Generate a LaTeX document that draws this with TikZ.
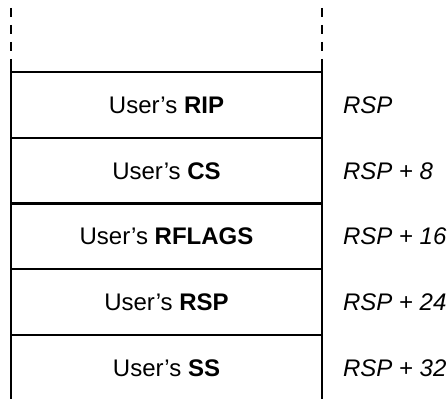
\documentclass[tikz,border=0pt]{standalone}
\usepackage{fontspec}
\setmainfont{Liberation Sans}
\usetikzlibrary{positioning}

\begin{document}
\begin{tikzpicture}[
  x=1pt, y=1pt,
  font=\fontsize{24}{29}\selectfont,
  cell/.style={inner sep=0pt, outer sep=0pt, minimum width=311pt, minimum height=65.75pt,
               text height=17pt, text depth=0pt, align=center},
  addr/.style={inner sep=0pt, outer sep=0pt, anchor=west, text height=17pt, text depth=0pt,
               font=\fontsize{24}{29}\selectfont\itshape},
  wall/.style={line width=2.2pt, black},
  faded/.style={wall, dash pattern=on 9pt off 8pt}
]
\useasboundingbox (0,0) rectangle (447,399);
\coordinate (floor) at (0,0);

% --- Saved frame on the kernel stack -----------------------------------------
\node[cell] (rip) at (166.5,294.125) {User's \textbf{RIP}};
\node[cell, below=0pt of rip] (cs) {User's \textbf{CS}};
\node[cell, below=0pt of cs] (rflags) {User's \textbf{RFLAGS}};
\node[cell, below=0pt of rflags] (rsp) {User's \textbf{RSP}};
\node[cell, below=0pt of rsp] (ss) {User's \textbf{SS}};

% --- Offsets ------------------------------------------------------------------
\node[addr, right=21pt of rip.east] (ofs0) {RSP};
\node[addr, right=21pt of cs.east] (ofs8) {RSP + 8};
\node[addr, right=21pt of rflags.east] (ofs16) {RSP + 16};
\node[addr, right=21pt of rsp.east] (ofs24) {RSP + 24};
\node[addr, right=21pt of ss.east] (ofs32) {RSP + 32};

% --- Separators ---------------------------------------------------------------
\foreach \c in {rip, cs, rflags, rsp, ss}
  \draw[wall] (\c.north west) -- (\c.north east);

% --- Side walls (open above and below) ----------------------------------------
\draw[wall] ([yshift=11pt]rip.north west) -- (rip.north west |- floor);
\draw[wall] ([yshift=11pt]rip.north east) -- (rip.north east |- floor);
\draw[faded] ([yshift=64pt]rip.north west) -- ([yshift=11pt]rip.north west);
\draw[faded] ([yshift=64pt]rip.north east) -- ([yshift=11pt]rip.north east);

\end{tikzpicture}
\end{document}
